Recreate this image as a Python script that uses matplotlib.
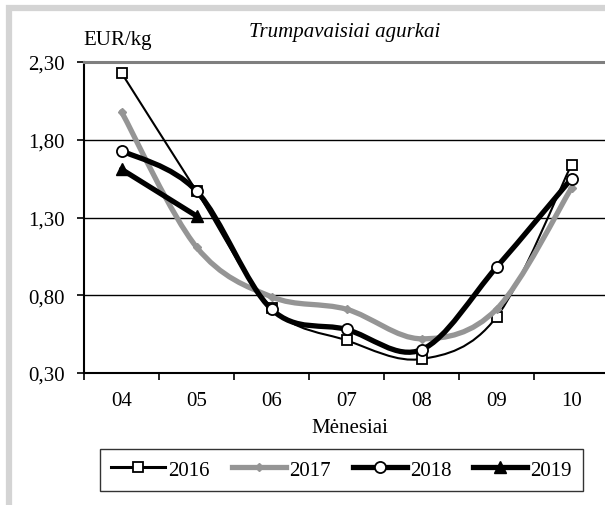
import matplotlib
matplotlib.use("Agg")
import matplotlib.pyplot as plt
from matplotlib.path import Path
from matplotlib.patches import PathPatch, Rectangle
from matplotlib.lines import Line2D
import numpy as np

plt.rcParams["font.family"] = ["Liberation Serif", "DejaVu Serif"]

# Data
months = ["04", "05", "06", "07", "08", "09", "10"]
price_2016 = [2.23, 1.47, 0.72, 0.51, 0.39, 0.66, 1.64]
price_2017 = [1.98, 1.11, 0.79, 0.71, 0.52, 0.71, 1.49]
price_2018 = [1.73, 1.47, 0.71, 0.58, 0.45, 0.98, 1.55]
price_2019 = [1.61, 1.31]
yticks = [0.30, 0.80, 1.30, 1.80, 2.30]
ytick_labels = ["0,30", "0,80", "1,30", "1,80", "2,30"]

W, H = 605, 506
FS = 15


def smooth_path(xs, ys):
    # Excel-like smoothed line: cubic Bezier segments through the points
    pts = np.column_stack([xs, ys]).astype(float)
    verts = [pts[0]]
    codes = [Path.MOVETO]
    n = len(pts)
    for i in range(n - 1):
        p0 = pts[max(i - 1, 0)]
        p1 = pts[i]
        p2 = pts[i + 1]
        p3 = pts[min(i + 2, n - 1)]
        c1 = p1 + (p2 - p0) / 6.0
        c2 = p2 - (p3 - p1) / 6.0
        verts += [c1, c2, p2]
        codes += [Path.CURVE4] * 3
    return Path(verts, codes)


fig = plt.figure(figsize=(W / 100, H / 100), dpi=100)
ax = fig.add_axes([84 / W, (H - 374) / H, 525 / W, 311 / H])

series = [
    ("2016", price_2016, dict(color="black", lw=1.5), dict(marker="s", ms=7.5, mfc="white", mec="black", mew=1.3)),
    ("2017", price_2017, dict(color="#959595", lw=3.8), dict(marker="D", ms=4.5, mfc="#959595", mec="#959595")),
    ("2018", price_2018, dict(color="black", lw=3.8), dict(marker="o", ms=8, mfc="white", mec="black", mew=1.3)),
    ("2019", price_2019, dict(color="black", lw=3.8), dict(marker="^", ms=8, mfc="black", mec="black")),
]
legend_lw = [2.2, 3.8, 3.8, 3.8]

handles = []
for i, (name, vals, lstyle, mstyle) in enumerate(series):
    x = np.arange(len(vals))
    patch = PathPatch(smooth_path(x, vals), fill=False, edgecolor=lstyle["color"],
                      lw=lstyle["lw"], zorder=3 + i, capstyle="round", joinstyle="round")
    ax.add_patch(patch)
    ax.plot(x, vals, linestyle="none", zorder=3.5 + i, **mstyle)
    handles.append(Line2D([], [], color=lstyle["color"], lw=legend_lw[i], **mstyle))

ax.set_xlim(-0.5, len(months) - 0.5)
ax.set_ylim(0.3, 2.3)

ax.set_xticks(range(len(months)))
ax.set_xticklabels(months, fontsize=FS)
ax.set_xticks(np.arange(-0.5, len(months)), minor=True)
ax.tick_params(axis="x", which="major", length=0, pad=13)
ax.tick_params(axis="x", which="minor", length=5, width=1.2, direction="out", color="black")

ax.set_yticks(yticks)
ax.set_yticklabels(ytick_labels, fontsize=FS)
ax.tick_params(axis="y", length=5, width=1.2, direction="out", pad=9)

for y in yticks[1:-1]:
    ax.axhline(y, color="black", lw=1.0, zorder=1)

ax.spines["right"].set_visible(False)
ax.spines["top"].set_color("#7f7f7f")
ax.spines["top"].set_linewidth(2.2)
ax.spines["left"].set_linewidth(1.5)
ax.spines["bottom"].set_linewidth(1.5)

fig.text(345 / W, 1 - 33 / H, "Trumpavaisiai agurkai", fontsize=FS, style="italic",
         ha="center", va="center")
fig.text(83 / W, 1 - 41 / H, "EUR/kg", fontsize=FS, ha="left", va="center")
fig.text(350 / W, 1 - 429 / H, "Mėnesiai", fontsize=FS, ha="center", va="center")

leg = fig.legend(handles, [s[0] for s in series], loc="center", ncol=4,
                 bbox_to_anchor=(341.5 / W, 1 - 471 / H), fontsize=FS,
                 handlelength=2.6, handletextpad=0.15, columnspacing=1.05,
                 borderpad=0.55, fancybox=False, frameon=True)
leg.get_frame().set_edgecolor("black")
leg.get_frame().set_linewidth(1.0)

# light grey outer frame, cut off at the right and bottom
fig.patches.append(Rectangle((9 / W, -0.1), 1.2, 1 - 9 / H + 0.1, transform=fig.transFigure,
                             fill=False, edgecolor="#d4d4d4", lw=4.5))

fig.savefig("out.png", dpi=100)
